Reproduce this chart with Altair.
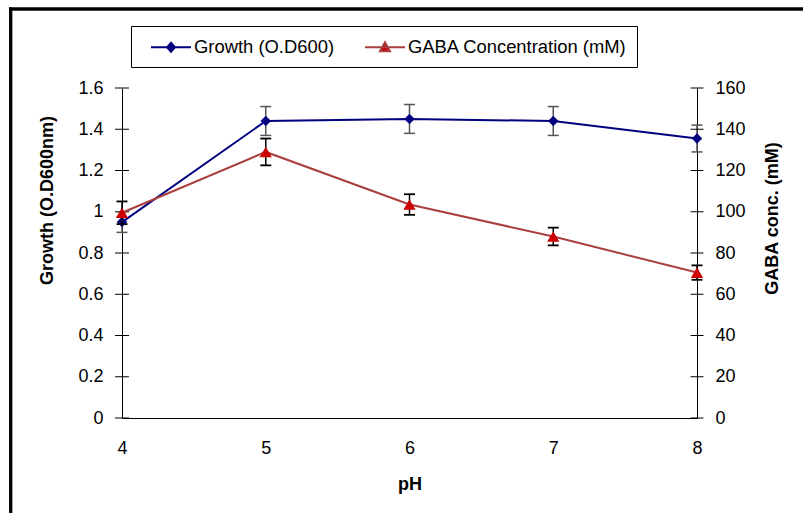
import altair as alt
import pandas as pd

# ---- data ----
ph = [4, 5, 6, 7, 8]
growth = [0.95, 1.44, 1.45, 1.44, 1.355]
growth_err = [0.05, 0.07, 0.07, 0.07, 0.065]
gaba = [99.5, 129, 103.5, 88, 70.5]
gaba_err = [5.5, 6.5, 5, 4.3, 3.5]
series_names = ["Growth (O.D600)", "GABA Concentration (mM)"]
left_ticks = [0, 0.2, 0.4, 0.6, 0.8, 1.0, 1.2, 1.4, 1.6]
right_ticks = [0, 20, 40, 60, 80, 100, 120, 140, 160]

NAVY = "#000080"
RED = "#CC0000"
BROWN = "#A93F3F"
FONT = "Liberation Sans"

df = pd.DataFrame({
    "pH": ph,
    "growth": growth,
    "g_lo": [g - e for g, e in zip(growth, growth_err)],
    "g_hi": [g + e for g, e in zip(growth, growth_err)],
    "gaba": gaba,
    "a_lo": [g - e for g, e in zip(gaba, gaba_err)],
    "a_hi": [g + e for g, e in zip(gaba, gaba_err)],
})
legend_df = pd.DataFrame({"series": series_names})
lt_df = pd.DataFrame({"v": left_ticks})
rt_df = pd.DataFrame({"v": right_ticks})
dummy = pd.DataFrame({"a": [0]})

x_enc = alt.X(
    "pH:Q",
    scale=alt.Scale(domain=[4, 8], nice=False, zero=False),
    axis=alt.Axis(values=ph, format="d", title="pH", ticks=False, tickSize=0, labelFlush=False,
                  labelFontSize=18, labelPadding=21, labelFont=FONT, labelColor="black",
                  titleFont=FONT, titleFontSize=18, titleFontWeight="bold", titleColor="black",
                  titleY=66, titleBaseline="middle", domainColor="black", grid=False),
)

gscale = alt.Scale(domain=[0, 1.6], nice=False, zero=True)
ascale = alt.Scale(domain=[0, 160], nice=False, zero=True)

left_axis = alt.Axis(values=left_ticks, format="~g", title="Growth (O.D600nm)", labelFlush=False,
                     titleFont=FONT, titleFontSize=18, titleFontWeight="bold", titleColor="black",
                     titleX=-75, titleY=112, titleAngle=270, titleAlign="center",
                     titleBaseline="middle", labelFont=FONT, labelFontSize=18, labelColor="black",
                     labelPadding=19, ticks=False, tickSize=0, domainColor="black", grid=False)
right_axis = alt.Axis(values=right_ticks, format="d", title="GABA conc. (mM)", orient="right",
                      labelFlush=False,
                      titleFont=FONT, titleFontSize=18, titleFontWeight="bold", titleColor="black",
                      titleX=75, titleY=130, titleAngle=270, titleAlign="center",
                      titleBaseline="middle", labelFont=FONT, labelFontSize=18, labelColor="black",
                      labelPadding=18, ticks=False, tickSize=0, domainColor="black", grid=False)

base = alt.Chart(df)

# tick marks crossing the y axis lines (as in the reference)
g_axis_ticks = alt.Chart(lt_df).mark_tick(orient="horizontal", size=14, thickness=1,
                                          color="black", opacity=1).encode(
    x=alt.value(0), y=alt.Y("v:Q", scale=gscale, axis=left_axis))
a_axis_ticks = alt.Chart(rt_df).mark_tick(orient="horizontal", size=13, thickness=1,
                                          color="black", opacity=1).encode(
    x=alt.value(575), y=alt.Y("v:Q", scale=ascale, axis=right_axis))

g_line = base.mark_line(color=NAVY, strokeWidth=2).encode(
    x=x_enc, y=alt.Y("growth:Q", scale=gscale, axis=left_axis))
g_err = base.mark_rule(color="#555555", strokeWidth=1.5).encode(
    x=x_enc, y=alt.Y("g_lo:Q", scale=gscale, axis=left_axis), y2="g_hi:Q")
g_cap_lo = base.mark_tick(color="#555555", orient="horizontal", size=11, thickness=1.5, opacity=1).encode(
    x=x_enc, y=alt.Y("g_lo:Q", scale=gscale, axis=left_axis))
g_cap_hi = base.mark_tick(color="#555555", orient="horizontal", size=11, thickness=1.5, opacity=1).encode(
    x=x_enc, y=alt.Y("g_hi:Q", scale=gscale, axis=left_axis))
g_pts = base.mark_point(shape="diamond", filled=True, color=NAVY, size=110, opacity=1).encode(
    x=x_enc, y=alt.Y("growth:Q", scale=gscale, axis=left_axis))

a_line = base.mark_line(color=BROWN, strokeWidth=2).encode(
    x=x_enc, y=alt.Y("gaba:Q", scale=ascale, axis=right_axis))
a_err = base.mark_rule(color="black", strokeWidth=1.5).encode(
    x=x_enc, y=alt.Y("a_lo:Q", scale=ascale, axis=right_axis), y2="a_hi:Q")
a_cap_lo = base.mark_tick(color="black", orient="horizontal", size=11, thickness=1.8, opacity=1).encode(
    x=x_enc, y=alt.Y("a_lo:Q", scale=ascale, axis=right_axis))
a_cap_hi = base.mark_tick(color="black", orient="horizontal", size=11, thickness=1.8, opacity=1).encode(
    x=x_enc, y=alt.Y("a_hi:Q", scale=ascale, axis=right_axis))
a_pts = base.mark_point(shape="triangle-up", filled=True, color=RED, size=150, opacity=1).encode(
    x=x_enc, y=alt.Y("gaba:Q", scale=ascale, axis=right_axis))

growth_layer = alt.layer(g_line, g_axis_ticks, g_err, g_cap_lo, g_cap_hi, g_pts)
gaba_layer = alt.layer(a_line, a_axis_ticks, a_err, a_cap_lo, a_cap_hi, a_pts)

# legend symbols: a line segment with the marker in its middle (custom paths)
path_growth = "M-0.1,0L3.9,0M1.5,0L1.9,-0.45L2.3,0L1.9,0.45Z"
path_gaba = "M-0.1,0L3.9,0M1.4,0.4L1.9,-0.5L2.4,0.4Z"

leg = alt.Legend(orient="none", legendX=9, legendY=-62, direction="horizontal", title=None,
                 labelFont=FONT, labelFontSize=18.4, labelColor="black", symbolSize=400,
                 symbolStrokeWidth=2, symbolOpacity=1, labelOffset=31, padding=10,
                 strokeColor="black", fillColor="white", columnPadding=20, labelLimit=400)

legend_layer = alt.Chart(legend_df).mark_point(filled=True, strokeWidth=2, size=400, opacity=1).encode(
    x=alt.value(-600), y=alt.value(-600),
    fill=alt.Fill("series:N", scale=alt.Scale(domain=series_names, range=[NAVY, RED]), legend=leg),
    stroke=alt.Stroke("series:N", scale=alt.Scale(domain=series_names, range=[NAVY, BROWN]), legend=leg),
    shape=alt.Shape("series:N", scale=alt.Scale(domain=series_names, range=[path_growth, path_gaba]), legend=leg),
)

frame_left = alt.Chart(dummy).mark_rule(color="black", strokeWidth=3.3).encode(
    x=alt.value(-111.3), y=alt.value(-80.5), y2=alt.value(430))
frame_top = alt.Chart(dummy).mark_rule(color="black", strokeWidth=3.3).encode(
    x=alt.value(-113), x2=alt.value(690), y=alt.value(-79))

chart = alt.layer(growth_layer, gaba_layer, legend_layer, frame_left, frame_top).resolve_scale(
    y="independent"
).properties(
    width=575, height=330,
    autosize=alt.AutoSizeParams(type="none"),
    padding={"left": 122, "top": 88, "right": 106, "bottom": 95},
    background="white",
).configure_view(strokeWidth=0)

chart.save("out.html", embed_options={"renderer": "svg", "actions": False})
